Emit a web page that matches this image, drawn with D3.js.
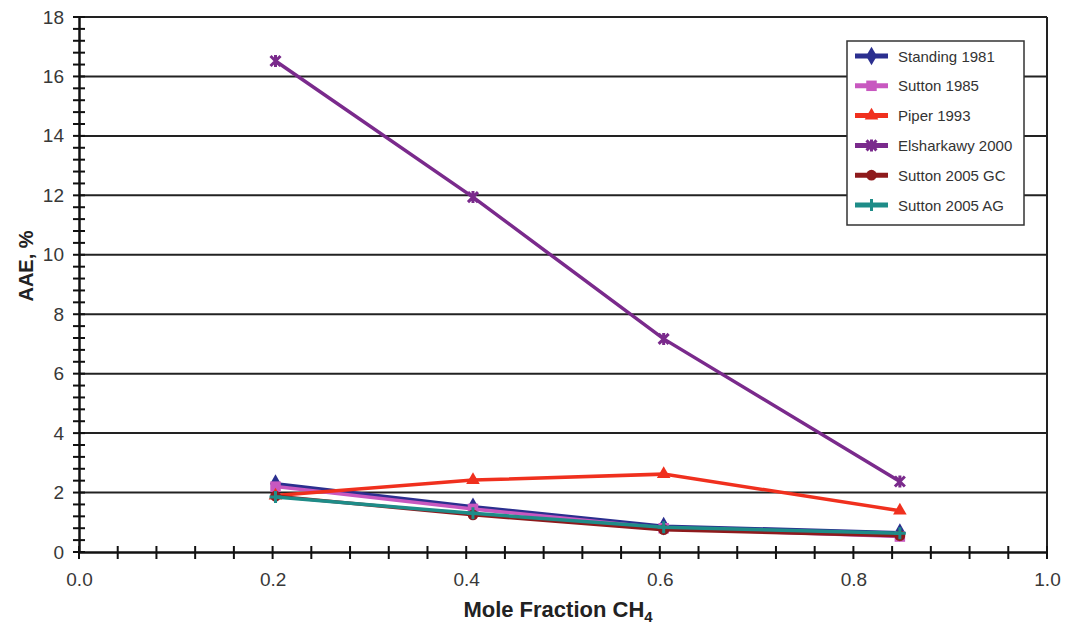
<!DOCTYPE html>
<html>
<head>
<meta charset="utf-8">
<script src="https://cdn.jsdelivr.net/npm/d3@7"></script>
<style>
  body { margin: 0; background: #fff; }
  text { font-family: "Liberation Sans", Arial, sans-serif; }
</style>
</head>
<body>
<div class="chart"></div>
<script>
// svg size
var svgWidth = 1067;
var svgHeight = 628;

// plot area
var margin = { top: 17, right: 20, bottom: 76, left: 79 };
var chartWidth = svgWidth - margin.left - margin.right;
var chartHeight = svgHeight - margin.top - margin.bottom;

// data
var molefraction = [0.203, 0.407, 0.604, 0.848];
var standing1981 = [2.3, 1.52, 0.87, 0.65];
var sutton1985 = [2.2, 1.45, 0.8, 0.52];
var piper1993 = [1.9, 2.42, 2.62, 1.39];
var elsharkawy2000 = [16.52, 11.94, 7.17, 2.37];
var sutton2005GC = [1.88, 1.25, 0.75, 0.55];
var sutton2005AG = [1.85, 1.3, 0.83, 0.63];

var seriesNames = ["Standing 1981", "Sutton 1985", "Piper 1993", "Elsharkawy 2000", "Sutton 2005 GC", "Sutton 2005 AG"];
var seriesValues = [standing1981, sutton1985, piper1993, elsharkawy2000, sutton2005GC, sutton2005AG];
var seriesColors = ["#2b2f8f", "#c858c0", "#f0301e", "#7a2a8c", "#8e1a1c", "#1e8c88"];
var seriesMarkers = ["diamond", "square", "triangle", "star", "circle", "cross"];

var xTicks = [0.0, 0.2, 0.4, 0.6, 0.8, 1.0];
var yTicks = [0, 2, 4, 6, 8, 10, 12, 14, 16, 18];

var svg = d3.select(".chart")
  .append("svg")
  .attr("width", svgWidth)
  .attr("height", svgHeight);

var chart = svg.append("g")
  .attr("transform", "translate(" + margin.left + "," + margin.top + ")");

var x = d3.scaleLinear().domain([0, 1]).range([0, chartWidth]);
var y = d3.scaleLinear().domain([0, 18]).range([chartHeight, 0]);

// gridlines
chart.append("g")
  .selectAll("line")
  .data(yTicks.slice(1))
  .enter().append("line")
  .attr("x1", 0)
  .attr("x2", chartWidth)
  .attr("y1", function(d) { return y(d); })
  .attr("y2", function(d) { return y(d); })
  .attr("stroke", "#222")
  .attr("stroke-width", 2);

// right border
chart.append("line")
  .attr("x1", chartWidth).attr("x2", chartWidth)
  .attr("y1", 0).attr("y2", chartHeight)
  .attr("stroke", "#222").attr("stroke-width", 2);

// minor ticks
var yMinor = d3.range(0, 18.01, 0.4);
chart.append("g")
  .selectAll("line")
  .data(yMinor)
  .enter().append("line")
  .attr("x1", -6).attr("x2", 6)
  .attr("y1", function(d) { return y(d); })
  .attr("y2", function(d) { return y(d); })
  .attr("stroke", "#111").attr("stroke-width", 2);

var xMinor = d3.range(0, 1.001, 0.04);
chart.append("g")
  .selectAll("line")
  .data(xMinor)
  .enter().append("line")
  .attr("x1", function(d) { return x(d); })
  .attr("x2", function(d) { return x(d); })
  .attr("y1", chartHeight - 6).attr("y2", chartHeight + 7)
  .attr("stroke", "#111").attr("stroke-width", 2);

// axes
var bottomAxis = d3.axisBottom(x).tickValues(xTicks).tickFormat(d3.format(".1f")).tickSize(0).tickPadding(21);
var leftAxis = d3.axisLeft(y).tickValues(yTicks).tickSize(0).tickPadding(15);

var gx = chart.append("g")
  .attr("transform", "translate(0," + chartHeight + ")")
  .call(bottomAxis);
var gy = chart.append("g").call(leftAxis);

[gx, gy].forEach(function(g) {
  g.select(".domain").attr("stroke", "#111").attr("stroke-width", 2.5);
  g.selectAll("text").attr("font-size", 19).attr("fill", "#383838")
    .style("font-family", "'Liberation Sans', Arial, sans-serif");
});

// series
var line = d3.line()
  .x(function(d, i) { return x(molefraction[i]); })
  .y(function(d) { return y(d); });

function markerPath(type) {
  if (type == "diamond") return d3.symbol().type(d3.symbolDiamond).size(100)();
  if (type == "square") return d3.symbol().type(d3.symbolSquare).size(110)();
  if (type == "triangle") return d3.symbol().type(d3.symbolTriangle).size(80)();
  if (type == "circle") return d3.symbol().type(d3.symbolCircle).size(90)();
  if (type == "cross") return "M-6,0L6,0M0,-6L0,6";
  return "M-5,-5L5,5M5,-5L-5,5M0,-6L0,6";
}

function drawMarker(g, type, color) {
  var p = g.append("path").attr("d", markerPath(type));
  if (type == "cross" || type == "star") {
    p.attr("fill", "none").attr("stroke", color).attr("stroke-width", 3);
  } else {
    p.attr("fill", color);
  }
}

seriesValues.forEach(function(vals, k) {
  chart.append("path")
    .datum(vals)
    .attr("d", line)
    .attr("fill", "none")
    .attr("stroke", seriesColors[k])
    .attr("stroke-width", 3.5);

  vals.forEach(function(v, i) {
    var g = chart.append("g")
      .attr("transform", "translate(" + x(molefraction[i]) + "," + y(v) + ")");
    drawMarker(g, seriesMarkers[k], seriesColors[k]);
  });
});

// legend
var legend = svg.append("g").attr("transform", "translate(847,41)");
legend.append("rect")
  .attr("width", 177).attr("height", 184)
  .attr("fill", "#fff").attr("stroke", "#333").attr("stroke-width", 1.5);

seriesNames.forEach(function(name, k) {
  var row = legend.append("g").attr("transform", "translate(0," + (15 + k * 29.8) + ")");
  row.append("line")
    .attr("x1", 8).attr("x2", 41)
    .attr("stroke", seriesColors[k]).attr("stroke-width", 5);
  var m = row.append("g").attr("transform", "translate(24.5,0)");
  drawMarker(m, seriesMarkers[k], seriesColors[k]);
  row.append("text")
    .attr("x", 51).attr("y", 5.5)
    .attr("font-size", 15)
    .attr("fill", "#333")
    .text(name);
});

// axis titles
svg.append("text")
  .attr("transform", "translate(33,266) rotate(-90)")
  .attr("text-anchor", "middle")
  .attr("font-size", 20)
  .attr("font-weight", "bold")
  .attr("fill", "#222")
  .text("AAE, %");

var xt = svg.append("text")
  .attr("x", 558)
  .attr("y", 617)
  .attr("text-anchor", "middle")
  .attr("font-size", 22)
  .attr("font-weight", "bold")
  .attr("fill", "#222")
  .text("Mole Fraction CH");
xt.append("tspan")
  .attr("font-size", 15)
  .attr("dy", 5)
  .text("4");
</script>
</body>
</html>
